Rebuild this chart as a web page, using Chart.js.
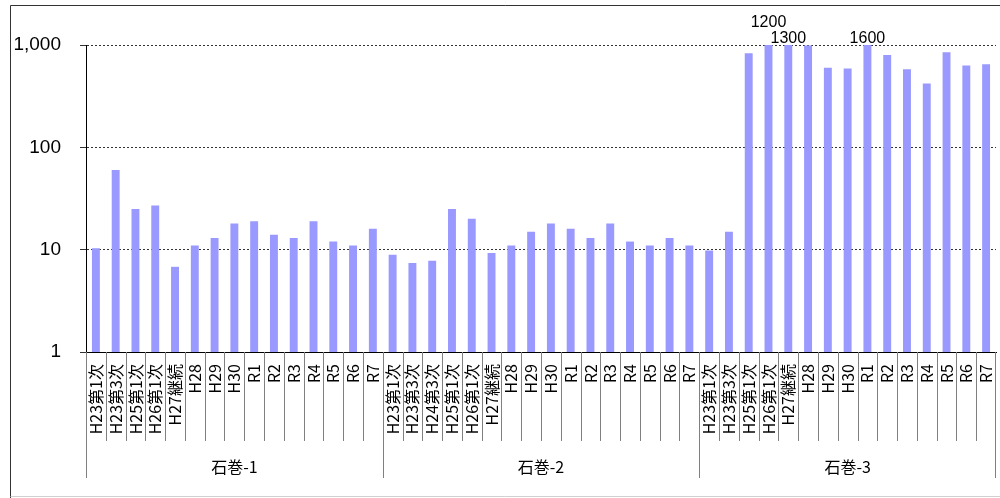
<!DOCTYPE html>
<html>
<head>
<meta charset="utf-8">
<script src="https://cdn.jsdelivr.net/npm/chart.js@4/dist/chart.umd.min.js"></script>
<style>
  body { margin: 0; background: #fff; }
  canvas { display: block; }
</style>
</head>
<body>
<canvas id="myChart" width="1000" height="498"></canvas>
<script>
// site groups
var groupNames = ["石巻-1", "石巻-2", "石巻-3"];

// survey rounds per group
var labels1 = ["H23第1次", "H23第3次", "H25第1次", "H26第1次", "H27継続", "H28", "H29", "H30", "R1", "R2", "R3", "R4", "R5", "R6", "R7"];
var labels2 = ["H23第1次", "H23第3次", "H24第3次", "H25第1次", "H26第1次", "H27継続", "H28", "H29", "H30", "R1", "R2", "R3", "R4", "R5", "R6", "R7"];
var labels3 = ["H23第1次", "H23第3次", "H25第1次", "H26第1次", "H27継続", "H28", "H29", "H30", "R1", "R2", "R3", "R4", "R5", "R6", "R7"];

var values1 = [10.3, 60, 25, 27, 6.8, 11, 13, 18, 19, 14, 13, 19, 12, 11, 16];
var values2 = [8.9, 7.4, 7.8, 25, 20, 9.3, 11, 15, 18, 16, 13, 18, 12, 11, 13, 11];
var values3 = [9.8, 15, 830, 1200, 1300, 990, 600, 590, 1600, 800, 580, 420, 850, 630, 650];

var yTicks = [1, 10, 100, 1000];
var yMin = 1;
var yMax = 1000;

var groupLabels = [labels1, labels2, labels3];
var allLabels = labels1.concat(labels2, labels3);
var allValues = values1.concat(values2, values3);

const jpFont = "'Noto Sans CJK JP', 'Noto Sans', sans-serif";

// dividers under the axis, group names, frame and labels of clipped bars
const extrasPlugin = {
  id: "extras",
  afterDraw(chart) {
    var ctx = chart.ctx;
    var area = chart.chartArea;
    var xs = chart.scales.x;
    var n = allLabels.length;
    var w = (area.right - area.left) / n;

    var bounds = [0];
    var acc = 0;
    groupLabels.forEach(function (g) {
      acc += g.length;
      bounds.push(acc);
    });

    ctx.save();
    ctx.strokeStyle = "#808080";
    ctx.lineWidth = 1;
    for (var i = 0; i <= n; i++) {
      var x = Math.round(xs.getPixelForValue(i) - w / 2) + 0.5;
      if (i == n) x = Math.round(area.right) - 0.5;
      var len = bounds.indexOf(i) >= 0 ? 126 : 89;
      ctx.beginPath();
      ctx.moveTo(x, area.bottom);
      ctx.lineTo(x, area.bottom + len);
      ctx.stroke();
    }

    ctx.fillStyle = "#000";
    ctx.font = "16px " + jpFont;
    ctx.textAlign = "center";
    ctx.textBaseline = "middle";
    for (var g = 0; g < groupNames.length; g++) {
      var x0 = xs.getPixelForValue(bounds[g]) - w / 2;
      var x1 = xs.getPixelForValue(bounds[g + 1] - 1) + w / 2;
      ctx.fillText(groupNames[g], (x0 + x1) / 2, area.bottom + 115);
    }

    // values above the axis maximum
    ctx.font = "16px 'Liberation Sans', Arial, sans-serif";
    for (var k = 0; k < n; k++) {
      if (allValues[k] > yMax) {
        var raise = (k + 1 < n && allValues[k + 1] > yMax) ? 16 : 0;
        ctx.fillText(String(allValues[k]), xs.getPixelForValue(k), area.top - 6 - raise);
      }
    }

    // frame
    ctx.strokeStyle = "#333";
    ctx.beginPath();
    ctx.moveTo(10.5, 1000);
    ctx.lineTo(10.5, 5.5);
    ctx.lineTo(1000, 5.5);
    ctx.stroke();
    ctx.strokeStyle = "#d0d0d0";
    ctx.beginPath();
    ctx.moveTo(10.5, 496.5);
    ctx.lineTo(1000, 496.5);
    ctx.stroke();
    ctx.restore();
  }
};

new Chart("myChart", {
  type: "bar",
  data: {
    labels: allLabels,
    datasets: [{
      data: allValues,
      backgroundColor: "#9999ff",
      borderWidth: 0,
      barPercentage: 0.4,
      categoryPercentage: 1.0
    }]
  },
  options: {
    responsive: false,
    animation: false,
    layout: {
      padding: { top: 45, right: 4, left: 0, bottom: 0 }
    },
    plugins: {
      legend: { display: false },
      tooltip: { enabled: false }
    },
    scales: {
      x: {
        grid: { display: false },
        border: { display: true, color: "#000", width: 1 },
        ticks: {
          autoSkip: false,
          minRotation: 90,
          maxRotation: 90,
          padding: 4,
          color: "#000",
          font: { size: 16, family: jpFont }
        },
        afterFit(scale) {
          scale.height = 146;
          scale.paddingLeft = 0;
          scale.paddingRight = 0;
        }
      },
      y: {
        type: "logarithmic",
        min: yMin,
        max: yMax,
        afterBuildTicks(scale) {
          scale.ticks = yTicks.map(function (v) { return { value: v }; });
        },
        grid: {
          color: "#333",
          lineWidth: 1,
          tickLength: 6
        },
        border: { display: true, color: "#000", width: 1, dash: [2, 2] },
        ticks: {
          color: "#000",
          padding: 19,
          font: { size: 19, family: "'Liberation Sans', Arial, sans-serif" },
          callback: function (v) {
            return Number(v).toLocaleString("en-US");
          }
        },
        afterFit(scale) {
          scale.width = 86;
        }
      }
    }
  },
  plugins: [extrasPlugin]
});
</script>
</body>
</html>
